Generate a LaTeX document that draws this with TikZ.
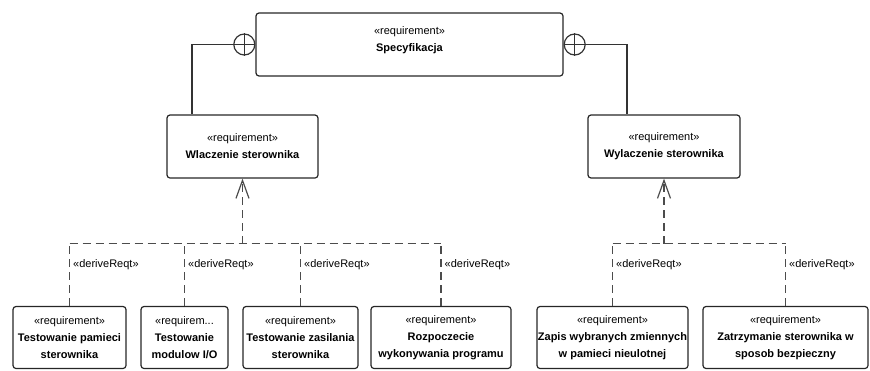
\documentclass[tikz,border=0pt]{standalone}
\usepackage{fontspec}
\setmainfont{Liberation Sans}
\usetikzlibrary{arrows.meta, positioning, calc}

\begin{document}
\begin{tikzpicture}[x=1pt, y=-1pt,
    req/.style={draw=black!85, line width=1.2pt, rounded corners=3pt, align=center,
        inner sep=0pt, minimum height=62pt, font=\fontsize{11}{17}\selectfont},
    own/.style={draw=black!80, line width=1.2pt},
    derive/.style={draw=black!70, line width=1.4pt, dash pattern=on 8pt off 5pt},
    lbl/.style={right, inner sep=3pt, font=\fontsize{11}{13}\selectfont}]
    \useasboundingbox (0,0) rectangle (870,370);

    % requirements
    \node[req, minimum width=307pt, minimum height=63pt] (spec) at (409.5,44.5)
        {«requirement»\\\textbf{Specyfikacja}\\[-6pt]\mbox{}};
    \node[req, minimum width=151pt, minimum height=63pt] (wl) at (242.5,146.5)
        {«requirement»\\\textbf{Wlaczenie sterownika}};
    \node[req, minimum width=152pt, minimum height=63pt] (wy) at (664,146.5)
        {«requirement»\\\textbf{Wylaczenie sterownika}};

    \node[req, minimum width=113pt] (t1) at (69.5,337.5)
        {«requirement»\\\textbf{Testowanie pamieci}\\\textbf{sterownika}};
    \node[req, minimum width=87pt] (t2) at (184.5,337.5)
        {«requirem...\\\textbf{Testowanie}\\\textbf{modulow I/O}};
    \node[req, minimum width=115pt] (t3) at (300.5,337.5)
        {«requirement»\\\textbf{Testowanie zasilania}\\\textbf{sterownika}};
    \node[req, minimum width=140pt] (t4) at (441,337.5)
        {«requirement»\\\textbf{Rozpoczecie}\\\textbf{wykonywania programu}};
    \node[req, minimum width=151pt] (t5) at (612.5,337.5)
        {«requirement»\\\textbf{Zapis wybranych zmiennych}\\\textbf{w pamieci nieulotnej}};
    \node[req, minimum width=165pt] (t6) at (785.5,337.5)
        {«requirement»\\\textbf{Zatrzymanie sterownika w}\\\textbf{sposob bezpieczny}};

    % containment
    \node[own, draw, circle, inner sep=0pt, minimum size=21pt, anchor=east] (cl) at (spec.west) {};
    \node[own, draw, circle, inner sep=0pt, minimum size=21pt, anchor=west] (cr) at (spec.east) {};
    \draw[own] (cl.north) -- (cl.south) (cl.west) -- (cl.east);
    \draw[own] (cr.north) -- (cr.south) (cr.west) -- (cr.east);
    \draw[own] (cl.west) -| ([xshift=-50.5pt]wl.north);
    \draw[own] (cr.east) -| ([xshift=-37pt]wy.north);

    % deriveReqt
    \coordinate (jl) at ($(wl.south)+(0,65)$);
    \coordinate (jr) at ($(wy.south)+(0,65)$);
    \draw[derive] (t1.north |- jl) -- (t4.north |- jl);
    \draw[derive] (t5.north |- jr) -- (t6.north |- jr);
    \foreach \t/\j in {t1/jl, t2/jl, t3/jl, t4/jl, t5/jr, t6/jr}
        \draw[derive] (\t.north) -- (\t.north |- \j) node[lbl, pos=0.66] {«deriveReqt»};
    \draw[derive, -{Straight Barb[length=18pt, width=13pt, line width=1.2pt]}] (jl) -- (wl.south);
    \draw[derive, -{Straight Barb[length=18pt, width=13pt, line width=1.2pt]}] (jr) -- (wy.south);
\end{tikzpicture}
\end{document}
